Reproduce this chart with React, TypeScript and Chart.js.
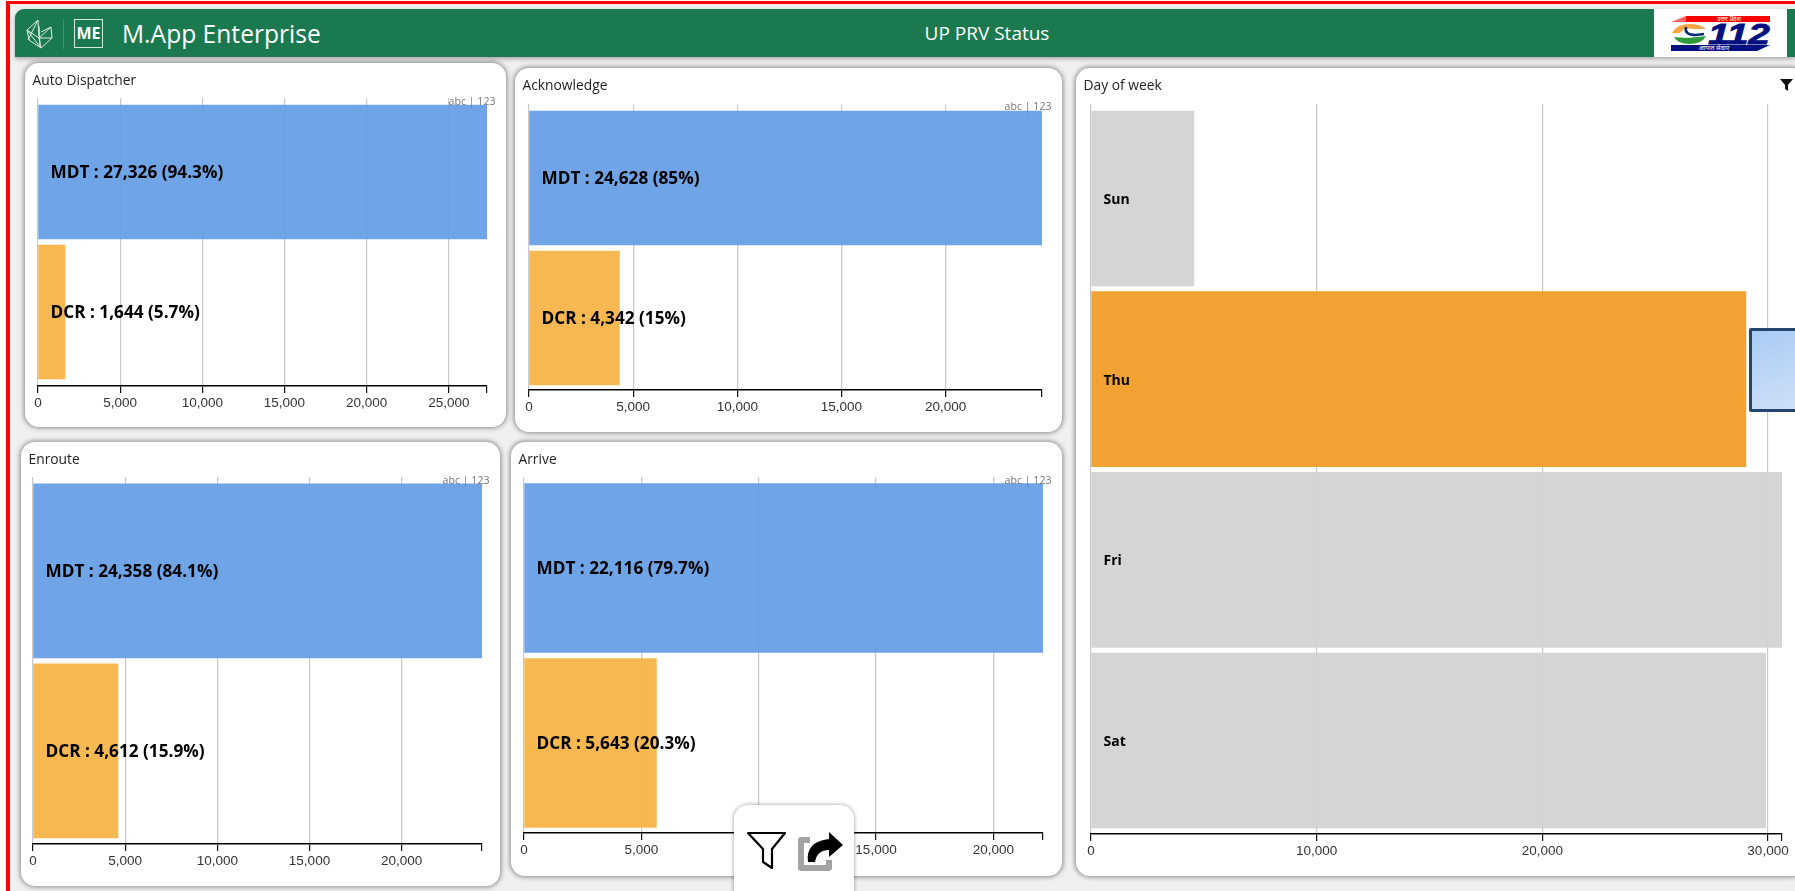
import React, { useEffect, useRef } from "react";
import { Chart, registerables } from "chart.js";

Chart.register(...registerables);

const deviceCategories = ["MDT", "DCR"];
const autoDispatcherValues = [27326, 1644];
const autoDispatcherShares = ["94.3%", "5.7%"];
const acknowledgeValues = [24628, 4342];
const acknowledgeShares = ["85%", "15%"];
const enrouteValues = [24358, 4612];
const enrouteShares = ["84.1%", "15.9%"];
const arriveValues = [22116, 5643];
const arriveShares = ["79.7%", "20.3%"];
const dayCategories = ["Sun", "Thu", "Fri", "Sat"];
const dayValues = [4560, 29020, 30620, 29900];
const ticks25k = [0, 5000, 10000, 15000, 20000, 25000];
const ticks20k = [0, 5000, 10000, 15000, 20000];
const ticksDay = [0, 10000, 20000, 30000];

const BLUE = "rgba(100,157,228,0.93)";
const ORANGE = "rgba(246,178,66,0.92)";
const GREY = "rgba(211,211,211,0.95)";
const THU = "#f2a233";

type PanelProps = {
  title: string;
  box: number[]; // card x, y, w, h
  pad: number[]; // plot left, right, top, axis-to-bottom
  yRange: number[];
  thickness: number;
  labels: string[];
  values: number[];
  shares?: string[];
  ticks: number[];
  colors: string[];
  xMax: number;
  font: string;
  abc?: boolean;
  filter?: boolean;
};

function Panel(p: PanelProps) {
  const ref = useRef<HTMLCanvasElement>(null);
  useEffect(() => {
    const textPlugin = {
      id: "barText",
      afterDatasetsDraw(chart: any) {
        const ctx = chart.ctx;
        const meta = chart.getDatasetMeta(0);
        ctx.save();
        ctx.font = p.font;
        ctx.fillStyle = "#000";
        ctx.textBaseline = "middle";
        meta.data.forEach((bar: any, i: number) => {
          const text = p.shares
            ? `${p.labels[i]} : ${p.values[i].toLocaleString("en-US")} (${p.shares[i]})`
            : p.labels[i];
          ctx.fillText(text, chart.chartArea.left + 12.5, bar.y + 1.5);
        });
        ctx.restore();
      },
    };
    const chart = new Chart(ref.current!, {
      type: "bar",
      plugins: [textPlugin],
      data: {
        labels: p.labels,
        datasets: [
          {
            data: p.values.map((v, i) => ({ x: v, y: i })),
            backgroundColor: p.colors,
            barThickness: p.thickness,
            borderWidth: 0,
          },
        ],
      },
      options: {
        indexAxis: "y",
        responsive: false,
        animation: false,
        events: [],
        layout: { padding: { left: p.pad[0], right: p.pad[1], top: p.pad[2], bottom: 0 } },
        plugins: { legend: { display: false }, tooltip: { enabled: false } },
        scales: {
          y: {
            type: "linear",
            display: false,
            reverse: true,
            offset: false,
            bounds: "data",
            min: p.yRange[0],
            max: p.yRange[1],
            grid: { display: false },
          },
          x: {
            type: "linear",
            min: 0,
            max: p.xMax,
            position: "bottom",
            afterFit: (s: any) => {
              s.height = p.pad[3];
            },
            afterBuildTicks: (s: any) => {
              s.ticks = [...p.ticks, p.xMax].map((value) => ({ value }));
            },
            border: { color: "#000", width: 1.4 },
            grid: {
              color: (c: any) => (c.tick && c.tick.value === p.xMax ? "rgba(0,0,0,0)" : "#c9c9c9"),
              tickColor: "#111",
              lineWidth: 1.2,
              tickLength: 7,
              drawOnChartArea: true,
            },
            ticks: {
              autoSkip: false,
              maxRotation: 0,
              minRotation: 0,
              padding: 2,
              color: "#333",
              font: { family: "'Liberation Sans'", size: 13.5 },
              callback: (v: any) => (v === p.xMax ? "" : Number(v).toLocaleString("en-US")),
            },
          },
        },
      },
    } as any);
    return () => chart.destroy();
  }, []);
  const [x, y, w, h] = p.box;
  return (
    <div
      style={{
        position: "absolute",
        left: x,
        top: y,
        width: w,
        height: h,
        background: "#fff",
        borderRadius: 14,
        boxShadow: "0 0 5px 1px rgba(0,0,0,0.45)",
        overflow: "hidden",
      }}
    >
      <canvas ref={ref} width={w} height={h} style={{ display: "block", position: "absolute", left: 0, top: 0 }} />
      <div
        style={{
          position: "absolute",
          left: 7.5,
          top: 6.5,
          fontFamily: "'Open Sans'",
          fontSize: 13.8,
          color: "#222",
          lineHeight: "20px",
        }}
      >
        {p.title}
      </div>
      {p.abc && (
        <div
          style={{
            position: "absolute",
            right: 10.5,
            top: 31,
            fontFamily: "'Open Sans'",
            fontSize: 10.6,
            color: "#777",
            lineHeight: "14px",
          }}
        >
          abc | 123
        </div>
      )}
      {p.filter && (
        <svg style={{ position: "absolute", left: 704, top: 10 }} width="14" height="14" viewBox="0 0 14 14">
          <path d="M0 1 H13 L8 7 V13 L5 11 V7 Z" fill="#111" />
        </svg>
      )}
    </div>
  );
}

function Logo() {
  return (
    <svg style={{ position: "absolute", left: 1654, top: 9 }} width="133" height="48" viewBox="0 0 133 48">
      <rect width="133" height="48" fill="#fff" />
      <path d="M17 13 L32 7 H32 V13 Z" fill="#f66" />
      <rect x="32" y="7" width="84" height="6" fill="#f00" />
      <text x="75" y="12.4" textAnchor="middle" fontFamily="'Noto Sans'" fontSize="6.5" fill="#fff">
        उत्तर प्रदेश
      </text>
      <path d="M18 24 Q22 15 36 15 Q46 15 52 20 H40 Q30 18 26 24 Z" fill="#f7a642" />
      <path d="M20 28 Q32 30 52 27 Q48 35 35 35 Q24 35 20 28 Z" fill="#2e9b3a" />
      <path d="M32 18 Q30 26 42 26 L50 25" stroke="#0a2a7a" strokeWidth="2.6" fill="none" />
      <text
        x="54"
        y="35"
        fontFamily="'Liberation Sans'"
        fontWeight="700"
        fontStyle="italic"
        fontSize="30"
        fill="#06107e"
        stroke="#06107e"
        strokeWidth="0.8"
        textLength="62"
        lengthAdjust="spacingAndGlyphs"
      >
        112
      </text>
      <path d="M17 36 H116 L103 42 H17 Z" fill="#06107e" />
      <text x="60" y="41.3" textAnchor="middle" fontFamily="'Noto Sans'" fontSize="6.5" fill="#fff">
        आपात सेवाएं
      </text>
    </svg>
  );
}

function Header() {
  return (
    <>
      <div style={{ position: "absolute", left: 15, top: 9, width: 1780, height: 48, background: "#1a794f", borderTopLeftRadius: 9, boxShadow: "0 2px 4px rgba(0,0,0,0.3)" }} />
      <svg style={{ position: "absolute", left: 25, top: 18 }} width="30" height="32" viewBox="0 0 30 32" fill="none" stroke="#dfeee6" strokeWidth="1">
        <path d="M2 12 L13 2 L14 20 L2 12 L4 22 L16 30 L14 20 L26 9 L27 20 L16 30 M13 2 L3 22 M14 8 L15 28 M2 12 L16 30 M14 20 L27 20 M16 14 L26 9" />
      </svg>
      <div style={{ position: "absolute", left: 63, top: 19, width: 1, height: 30, background: "#3d9070" }} />
      <div
        style={{
          position: "absolute",
          left: 74,
          top: 19,
          width: 29,
          height: 29,
          border: "1.4px solid #d5e8dd",
          boxSizing: "border-box",
          color: "#fff",
          fontFamily: "'Open Sans'",
          fontWeight: 700,
          fontSize: 16,
          lineHeight: "26px",
          textAlign: "center",
        }}
      >
        ME
      </div>
      <div style={{ position: "absolute", left: 122, top: 17, color: "#fff", fontFamily: "'Open Sans'", fontSize: 24.6, lineHeight: "34px", whiteSpace: "nowrap" }}>
        M.App Enterprise
      </div>
      <div style={{ position: "absolute", left: 787, width: 400, top: 20, textAlign: "center", color: "#fff", fontFamily: "'Open Sans'", fontSize: 19, lineHeight: "26px" }}>
        UP PRV Status
      </div>
      <Logo />
    </>
  );
}

export default function App() {
  return (
    <div style={{ position: "fixed", left: 0, top: 0, width: 1795, height: 891, overflow: "hidden", background: "#f0f0f0" }}>
      <div style={{ position: "absolute", left: 0, top: 0, width: 6, height: 891, background: "#fff" }} />
      <div style={{ position: "absolute", left: 0, top: 0, width: 1795, height: 1, background: "#fff" }} />
      <div style={{ position: "absolute", left: 6, top: 1, width: 4, height: 890, background: "#f00" }} />
      <div style={{ position: "absolute", left: 6, top: 1, width: 1789, height: 3, background: "#f00" }} />
      <Header />
      <Panel
        title="Auto Dispatcher"
        box={[25, 63, 481, 364]}
        pad={[13, 19, 35, 41]}
        yRange={[-0.5286, 1.5286]}
        thickness={134}
        labels={deviceCategories}
        values={autoDispatcherValues}
        shares={autoDispatcherShares}
        ticks={ticks25k}
        colors={[BLUE, ORANGE]}
        xMax={27326}
        font="700 17.2px 'Open Sans'"
        abc
      />
      <Panel
        title="Acknowledge"
        box={[515, 68, 547, 364]}
        pad={[14, 20, 36, 42]}
        yRange={[-0.5286, 1.514]}
        thickness={134}
        labels={deviceCategories}
        values={acknowledgeValues}
        shares={acknowledgeShares}
        ticks={ticks20k}
        colors={[BLUE, ORANGE]}
        xMax={24628}
        font="700 17.2px 'Open Sans'"
        abc
      />
      <Panel
        title="Enroute"
        box={[21, 442, 479, 444]}
        pad={[12, 18, 35, 42]}
        yRange={[-0.522, 1.517]}
        thickness={174}
        labels={deviceCategories}
        values={enrouteValues}
        shares={enrouteShares}
        ticks={ticks20k}
        colors={[BLUE, ORANGE]}
        xMax={24358}
        font="700 17.2px 'Open Sans'"
        abc
      />
      <Panel
        title="Arrive"
        box={[511, 442, 551, 434]}
        pad={[13, 19, 35, 43]}
        yRange={[-0.52, 1.514]}
        thickness={169}
        labels={deviceCategories}
        values={arriveValues}
        shares={arriveShares}
        ticks={ticks20k}
        colors={[BLUE, ORANGE]}
        xMax={22116}
        font="700 17.2px 'Open Sans'"
        abc
      />
      <Panel
        title="Day of week"
        box={[1076, 68, 730, 808]}
        pad={[15, 24, 36, 42]}
        yRange={[-0.523, 3.5175]}
        thickness={175}
        labels={dayCategories}
        values={dayValues}
        ticks={ticksDay}
        colors={[GREY, THU, GREY, GREY]}
        xMax={30620}
        font="700 14px 'Open Sans'"
        filter
      />
      <div
        style={{
          position: "absolute",
          left: 1749,
          top: 328,
          width: 70,
          height: 84,
          boxSizing: "border-box",
          border: "3px solid #24466a",
          borderRadius: 2,
          background: "linear-gradient(160deg,#a9cbf5,#d2e2f8)",
        }}
      />
      <div
        style={{
          position: "absolute",
          left: 734,
          top: 805,
          width: 120,
          height: 100,
          background: "#fff",
          borderRadius: 14,
          boxShadow: "0 0 4px rgba(0,0,0,0.4)",
        }}
      >
        <svg style={{ position: "absolute", left: 12, top: 26 }} width="42" height="40" viewBox="0 0 42 40">
          <path d="M2 2 H39 L26 18 V37 L17 31 V18 Z" fill="#fff" stroke="#000" strokeWidth="2.2" strokeLinejoin="round" />
        </svg>
        <svg style={{ position: "absolute", left: 62, top: 25 }} width="50" height="42" viewBox="0 0 50 42">
          <path d="M14 10 H5 V38 H33 V30" fill="none" stroke="#a3a3a3" strokeWidth="6" strokeLinejoin="round" />
          <path d="M12 32 Q9 12 33 9 V2 L47 15 L33 27 V20 Q21 20 19 32 Z" fill="#000" />
        </svg>
      </div>
    </div>
  );
}
